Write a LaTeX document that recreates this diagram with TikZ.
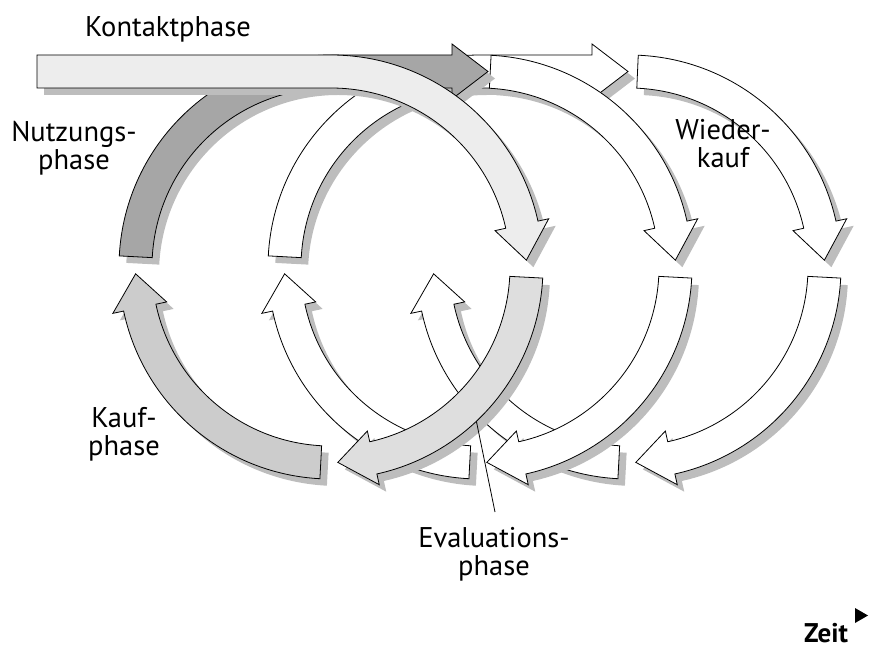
\documentclass[tikz,border=0pt]{standalone}
\usepackage{fontspec}
\setmainfont{PT Sans}
\usepackage{tikz}
\usetikzlibrary{positioning}
\definecolor{kontaktgrau}{gray}{0.93}
\definecolor{evalgrau}{gray}{0.87}
\definecolor{kaufgrau}{gray}{0.80}
\definecolor{nutzungsgrau}{gray}{0.65}
\definecolor{schattengrau}{gray}{0.74}

% Bogenpfeil: Start, Ende des Schafts, Spitze (Winkel)
\newcommand{\bogenpfad}[3]{(#1:212) arc[start angle=#1, end angle=#2, radius=212pt] -- (#2:223) -- (#3:195.5) -- (#2:168) -- (#2:179) arc[start angle=#2, end angle=#1, radius=179pt] -- cycle}
\newcommand{\nutzungpfad}[2]{(177:212) arc[start angle=177, end angle=90, radius=212pt] -- (#1,212) -- (#1,223) -- (#2,195.5) -- (#1,168) -- (#1,179) -- (0,179) arc[start angle=90, end angle=177, radius=179pt] -- cycle}
\newcommand{\kontaktpfad}{(-294,212) -- (0,212) arc[start angle=90, end angle=12.5, radius=212pt] -- (12.5:223) -- (2:195.5) -- (12.5:168) -- (12.5:179) arc[start angle=12.5, end angle=90, radius=179pt] -- (-294,179) -- cycle}
\newcommand{\schattenform}[2]{\fill[schatten] #2; \filldraw[bogen, fill=#1] #2;}

\begin{document}
\begin{tikzpicture}[
    x=1pt, y=1pt,
    bogen/.style={draw=black, line width=0.8pt, line join=miter},
    schatten/.style={fill=schattengrau, shift={(7,-7)}},
    beschriftung/.style={font=\fontsize{28.5}{28}\selectfont, align=center, inner sep=0pt}
]
\useasboundingbox (0,0) rectangle (869,648);

% Nutzungsphase, zweiter Zyklus
\begin{scope}[shift={(480,381)}]
  \schattenform{white}{\nutzungpfad{112}{148}}
\end{scope}

% Wiederkauf-Zyklen
\foreach \cx/\start in {629/87.5, 480/87} {
  \begin{scope}[shift={(\cx,381)}]
    \schattenform{white}{\bogenpfad{\start}{12.5}{2}}
    \schattenform{white}{\bogenpfad{-3}{-77.5}{-88}}
    \schattenform{white}{\bogenpfad{267}{192}{182}}
  \end{scope}
}

% erster Zyklus
\begin{scope}[shift={(331,381)}]
  \schattenform{nutzungsgrau}{\nutzungpfad{121}{157}}
  \schattenform{kontaktgrau}{\kontaktpfad}
  \schattenform{evalgrau}{\bogenpfad{-3}{-77.5}{-88}}
  \schattenform{kaufgrau}{\bogenpfad{267}{192}{182}}
  \coordinate (evalpunkt) at (-46.7:212);
\end{scope}

% Beschriftungen (Basis = letzte Zeile)
\node[beschriftung, anchor=base] (kontakt) at (168,611) {Kontaktphase};
\node[beschriftung, anchor=base] (nutzung) at (74,478) {Nutzungs-\\phase};
\node[beschriftung, anchor=base] (wiederkauf) at (723,480) {Wieder-\\kauf};
\node[beschriftung, anchor=base] (kauf) at (124,193) {Kauf-\\phase};
\node[beschriftung, anchor=base] (evaluation) at (494,73) {Evaluations-\\phase};
\coordinate (leiterende) at (495,136);
\draw[line width=0.8pt] (evalpunkt) -- (leiterende);

% Zeitachse
\node[beschriftung, anchor=base, font=\fontsize{27}{28}\selectfont\bfseries] (zeit) at (826,6) {Zeit};
\fill (855,40) -- (868,32.5) -- (855,25) -- cycle;

\end{tikzpicture}
\end{document}
